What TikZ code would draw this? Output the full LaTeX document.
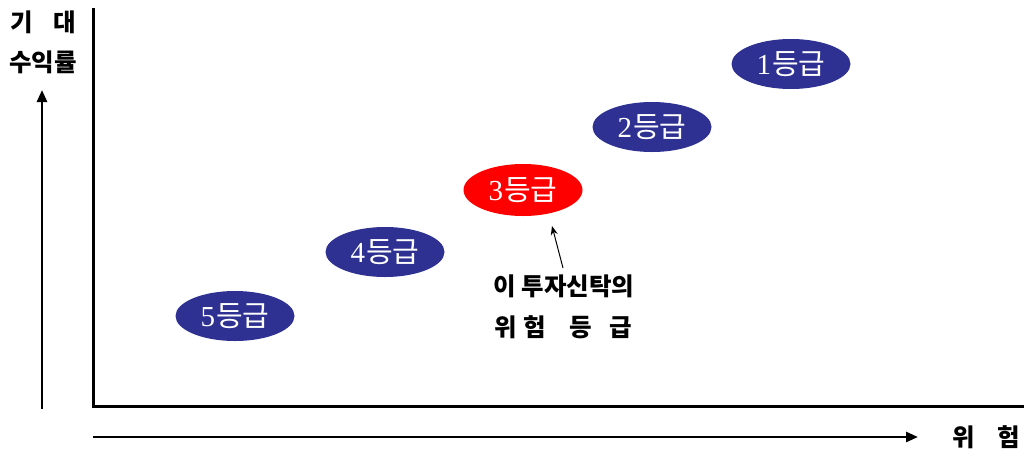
\documentclass[tikz,border=0pt]{standalone}
\usepackage{fontspec}
\newfontfamily\kr{Noto Sans CJK KR}
\newfontfamily\serifdigit{Liberation Serif}
\usetikzlibrary{shapes.geometric,arrows.meta}
\definecolor{navy}{HTML}{2E3192}
\definecolor{redfill}{HTML}{FF0000}
\begin{document}
\begin{tikzpicture}[x=1pt,y=-1pt,
  grade/.style={ellipse,fill=navy,draw=none,minimum width=119pt,minimum height=50pt,inner sep=0pt,text=white,font=\fontsize{29}{29}\selectfont},
  lbl/.style={font=\kr\bfseries\fontsize{24.5}{24.5}\selectfont,inner sep=0pt},
  axis/.style={line width=3pt},
  dirarrow/.style={line width=2.6pt,-{Triangle[length=12pt,width=10pt]}}]
\useasboundingbox (0,0) rectangle (1024,450);
% axes
\coordinate (o) at (93,406);
\coordinate (ytop) at (93,8);
\coordinate (xend) at (1024,406);
\draw[axis] (ytop) -- (o) -- (xend);
% direction arrows
\coordinate (ua) at (42,409);
\coordinate (ub) at (42,90);
\draw[dirarrow] (ua) -- (ub);
\coordinate (ra) at (93,437);
\coordinate (rb) at (918,437);
\draw[dirarrow] (ra) -- (rb);
% axis labels
\node[lbl] (l1) at (43,22) {기\hspace{0.85em}대};
\node[lbl] (l2) at (43,62) {수익률};
\node[lbl] (l3) at (986,437) {위\hspace{0.9em}험};
% grades
\node[grade] (g1) at (791,64) {\serifdigit 1\kr\hspace{0.03em}등급};
\node[grade] (g2) at (652,127) {\serifdigit 2\kr\hspace{0.03em}등급};
\node[grade,fill=redfill,minimum height=52pt] (g3) at (523,190) {\serifdigit 3\kr\hspace{0.03em}등급};
\node[grade] (g4) at (385,252) {\serifdigit 4\kr\hspace{0.03em}등급};
\node[grade] (g5) at (235,316) {\serifdigit 5\kr\hspace{0.03em}등급};
% annotation
\node[lbl] (t1) at (564,286) {이 투자신탁의};
\node[lbl] (t2) at (563,327) {위\hspace{0.3em}험\hspace{0.95em}등\hspace{0.7em}급};
\coordinate (pa) at (563,268);
\coordinate (pb) at (552,226);
\draw[line width=1pt,-{Stealth[length=9pt,width=7pt]}] (pa) -- (pb);
\end{tikzpicture}
\end{document}
